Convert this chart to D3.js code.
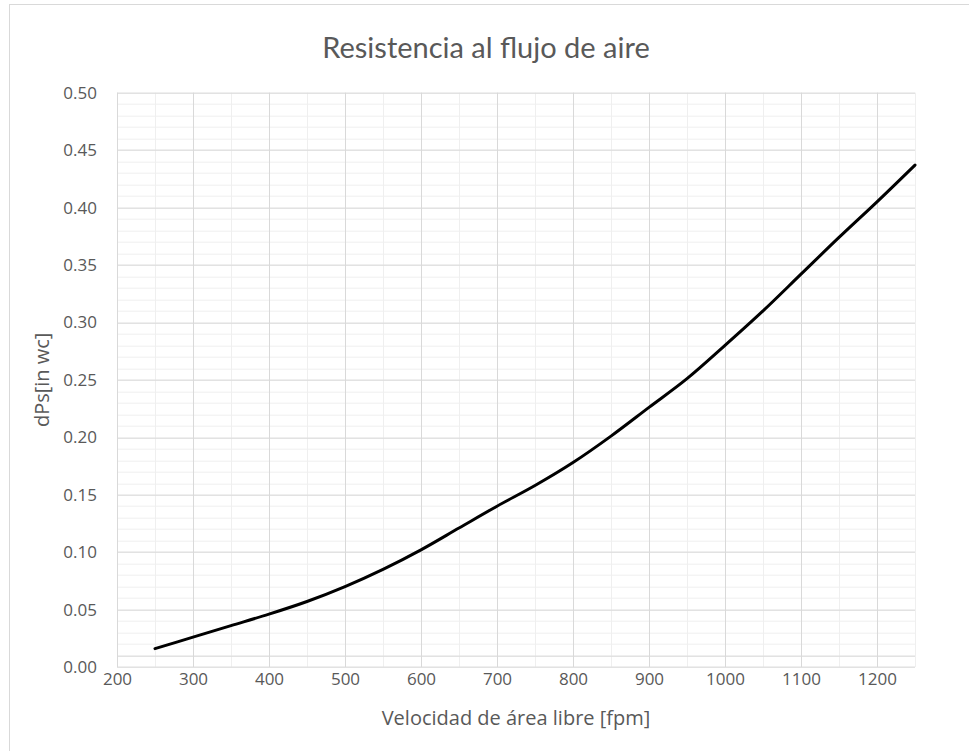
<!DOCTYPE html>
<html>
<head>
<meta charset="utf-8">
<script src="https://cdn.jsdelivr.net/npm/d3@7"></script>
<style>
  body { margin: 0; background: #fff; }
  text { fill: #595959; }
</style>
</head>
<body>
<div id="chart"></div>
<script>
// velocidad de área libre [fpm]
let velocidad = [250, 300, 350, 400, 450, 500, 550, 600, 650, 700, 750, 800, 850, 900, 950, 1000, 1050, 1100, 1150, 1200, 1250]
// dPs [in wc]
let dps = [0.016, 0.026, 0.036, 0.046, 0.057, 0.070, 0.085, 0.102, 0.121, 0.140, 0.158, 0.178, 0.201, 0.226, 0.251, 0.280, 0.310, 0.342, 0.374, 0.405, 0.437]
let xTicks = [200, 300, 400, 500, 600, 700, 800, 900, 1000, 1100, 1200]
let yTicks = [0, 0.05, 0.10, 0.15, 0.20, 0.25, 0.30, 0.35, 0.40, 0.45, 0.50]

let W = 969, H = 751
let margin = { top: 92.7, right: 54, bottom: 84, left: 117 }
let dims = {
  width: W - margin.left - margin.right,
  height: H - margin.top - margin.bottom
}

const svg = d3.select("#chart")
  .append("svg")
  .attr("width", W)
  .attr("height", H)

// chart frame
svg.append("rect")
  .attr("x", 9.5).attr("y", 4.5)
  .attr("width", W + 10).attr("height", H + 10)
  .attr("fill", "#fff")
  .attr("stroke", "#d9d9d9")

const g = svg.append("g")
  .attr("transform", `translate(${margin.left},${margin.top})`)

let x = d3.scaleLinear().domain([200, 1250]).range([0, dims.width])
let y = d3.scaleLinear().domain([0, 0.5]).range([dims.height, 0])

// minor grid
g.append("g")
  .selectAll("line")
  .data(d3.range(0, 51).map(d => d / 100))
  .join("line")
  .attr("x1", 0).attr("x2", dims.width)
  .attr("y1", d => Math.round(y(d)) + 0.5).attr("y2", d => Math.round(y(d)) + 0.5)
  .attr("stroke", "#efefef")
g.append("g")
  .selectAll("line")
  .data(d3.range(250, 1251, 100))
  .join("line")
  .attr("x1", d => Math.round(x(d)) + 0.5).attr("x2", d => Math.round(x(d)) + 0.5)
  .attr("y1", 0).attr("y2", dims.height)
  .attr("stroke", "#efefef")

// major grid
g.append("g")
  .selectAll("line")
  .data(yTicks.concat([0.01]))
  .join("line")
  .attr("x1", 0).attr("x2", dims.width)
  .attr("y1", d => Math.round(y(d)) + 0.5).attr("y2", d => Math.round(y(d)) + 0.5)
  .attr("stroke", "#d9d9d9")
g.append("g")
  .selectAll("line")
  .data(xTicks)
  .join("line")
  .attr("x1", d => Math.round(x(d)) + 0.5).attr("x2", d => Math.round(x(d)) + 0.5)
  .attr("y1", 0).attr("y2", dims.height)
  .attr("stroke", "#d9d9d9")

// axes (labels only)
let yAxis = g.append("g")
  .call(d3.axisLeft(y).tickValues(yTicks).tickFormat(d3.format(".2f")).tickSize(0).tickPadding(20))
let xAxis = g.append("g")
  .attr("transform", `translate(0,${dims.height})`)
  .call(d3.axisBottom(x).tickValues(xTicks).tickFormat(d3.format("d")).tickSize(0).tickPadding(6))
yAxis.select(".domain").remove()
xAxis.select(".domain").remove()
svg.selectAll(".tick text")
  .attr("fill", "#595959")
  .style("font-family", "'Open Sans', sans-serif")
  .style("font-size", "17px")

// the curve
let line = d3.line()
  .x((d, i) => x(velocidad[i]))
  .y(d => y(d))
  .curve(d3.curveCatmullRom)
g.append("path")
  .datum(dps)
  .attr("d", line)
  .attr("fill", "none")
  .attr("stroke", "#000")
  .attr("stroke-width", 3)
  .attr("stroke-linecap", "round")

// titles
svg.append("text")
  .attr("x", 486).attr("y", 58)
  .attr("text-anchor", "middle")
  .style("font-family", "'Lato', sans-serif")
  .style("font-size", "29px")
  .text("Resistencia al flujo de aire")

svg.append("text")
  .attr("x", margin.left + dims.width / 2).attr("y", 725)
  .attr("text-anchor", "middle")
  .style("font-family", "'Open Sans', sans-serif")
  .style("font-size", "20px")
  .text("Velocidad de área libre [fpm]")

svg.append("text")
  .attr("transform", `translate(49,${margin.top + dims.height / 2}) rotate(-90)`)
  .attr("text-anchor", "middle")
  .style("font-family", "'Open Sans', sans-serif")
  .style("font-size", "20px")
  .text("dPs[in wc]")
</script>
</body>
</html>
